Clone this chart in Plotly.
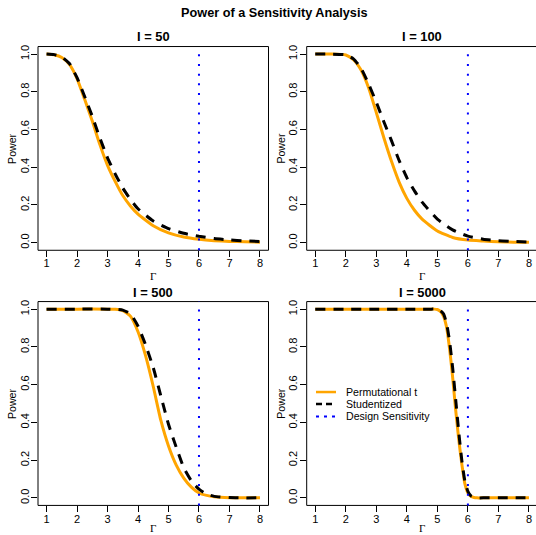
import plotly.graph_objects as go

# ---------------- data ----------------
PANEL_TITLES = ["I = 50", "I = 100", "I = 500", "I = 5000"]
X_TICKS = [1, 2, 3, 4, 5, 6, 7, 8]
Y_TICKS = [0.0, 0.2, 0.4, 0.6, 0.8, 1.0]
DESIGN_SENSITIVITY = 6
SERIES_NAMES = ["Permutational t", "Studentized", "Design Sensitivity"]

gamma_50 = [1, 1.25, 1.5, 1.75, 2, 2.25, 2.5, 2.75, 3, 3.25, 3.5, 3.75, 4, 4.5, 5, 5.5, 6, 6.5, 7, 7.5, 8]
perm_50 = [1.0, 0.996, 0.982, 0.945, 0.87, 0.76, 0.645, 0.52, 0.41, 0.325, 0.25, 0.195, 0.152, 0.09, 0.052, 0.03, 0.018, 0.011, 0.007, 0.005, 0.003]
stud_50 = [1.0, 0.997, 0.985, 0.95, 0.875, 0.775, 0.67, 0.555, 0.45, 0.365, 0.29, 0.23, 0.18, 0.115, 0.075, 0.05, 0.034, 0.022, 0.015, 0.01, 0.007]

gamma_100 = [1, 1.5, 2, 2.25, 2.5, 2.75, 3, 3.25, 3.5, 3.75, 4, 4.25, 4.5, 5, 5.5, 6, 6.5, 7, 7.5, 8]
perm_100 = [1.0, 1.0, 0.995, 0.97, 0.915, 0.82, 0.69, 0.555, 0.43, 0.32, 0.235, 0.172, 0.125, 0.062, 0.028, 0.014, 0.009, 0.005, 0.003, 0.002]
stud_100 = [1.0, 1.0, 0.996, 0.975, 0.925, 0.84, 0.745, 0.64, 0.54, 0.435, 0.345, 0.275, 0.215, 0.125, 0.068, 0.035, 0.019, 0.011, 0.007, 0.004]

gamma_500 = [1, 2, 3, 3.25, 3.5, 3.75, 4, 4.25, 4.5, 4.75, 5, 5.25, 5.5, 5.75, 6, 6.25, 6.5, 7, 7.5, 8]
perm_500 = [1.0, 1.0, 1.0, 0.999, 0.992, 0.963, 0.88, 0.752, 0.59, 0.41, 0.275, 0.175, 0.105, 0.057, 0.026, 0.013, 0.006, 0.001, 0.0, 0.0]
stud_500 = [1.0, 1.0, 1.0, 0.999, 0.995, 0.975, 0.91, 0.81, 0.69, 0.54, 0.39, 0.27, 0.16, 0.09, 0.046, 0.02, 0.008, 0.002, 0.0, 0.0]

gamma_5000 = [1, 2, 3, 4, 4.5, 4.8, 4.9, 5, 5.1, 5.2, 5.3, 5.4, 5.5, 5.6, 5.7, 5.8, 5.9, 6, 6.1, 6.2, 6.3, 6.5, 7, 7.5, 8]
perm_5000 = [1.0, 1.0, 1.0, 1.0, 1.0, 1.0, 1.0, 0.998, 0.988, 0.963, 0.905, 0.79, 0.64, 0.465, 0.31, 0.18, 0.075, 0.026, 0.008, 0.002, 0.0, 0.0, 0.0, 0.0, 0.0]
stud_5000 = [1.0, 1.0, 1.0, 1.0, 1.0, 1.0, 1.0, 0.999, 0.992, 0.975, 0.925, 0.83, 0.69, 0.52, 0.35, 0.2, 0.09, 0.035, 0.01, 0.003, 0.0, 0.0, 0.0, 0.0, 0.0]

PANELS = [
    (gamma_50, perm_50, stud_50),
    (gamma_100, perm_100, stud_100),
    (gamma_500, perm_500, stud_500),
    (gamma_5000, perm_5000, stud_5000),
]

# ---------------- layout geometry (pixels) ----------------
W, H = 536, 535
ORANGE = "#FFA500"
BLUE = "#0000FF"
SANS = "Liberation Sans, Arial, sans-serif"
SERIF = "Liberation Serif, DejaVu Serif, serif"

def fx(px):
    return px / W

def fy(py):
    return 1 - py / H

col_px = [(38.0, 268.5), (306.7, 536.0)]
row_px = [(44.7, 249.2), (300.7, 505.3)]
x_ranges = [[0.72, 8.28], [0.72, 0.72 + (536.0 - 306.7) / 30.53]]

fig = go.Figure()
shapes = []
annotations = []

for i, (g, perm, stud) in enumerate(PANELS):
    r, c = divmod(i, 2)
    n = "" if i == 0 else str(i + 1)
    xa, ya = "x" + n, "y" + n
    fig.add_trace(go.Scatter(x=g, y=perm, xaxis=xa, yaxis=ya, mode="lines",
                             name=SERIES_NAMES[0], showlegend=False,
                             line=dict(color=ORANGE, width=3, shape="spline", smoothing=0.5)))
    fig.add_trace(go.Scatter(x=g, y=stud, xaxis=xa, yaxis=ya, mode="lines",
                             name=SERIES_NAMES[1], showlegend=False,
                             line=dict(color="black", width=3, dash="10px,8px", shape="spline", smoothing=0.5)))
    axis_common = dict(showgrid=False, zeroline=False, showline=False, ticks="outside",
                       ticklen=6, tickwidth=1, tickcolor="black",
                       tickfont=dict(family=SANS, size=11, color="black"))
    fig.layout["xaxis" + n] = dict(domain=[fx(col_px[c][0]), fx(col_px[c][1])],
                                   range=x_ranges[c], anchor=ya,
                                   tickvals=X_TICKS, ticklabelstandoff=-3, **axis_common)
    fig.layout["yaxis" + n] = dict(domain=[fy(row_px[r][1]), fy(row_px[r][0])],
                                   range=[-0.04, 1.04], anchor=xa,
                                   tickvals=Y_TICKS, tickformat=".1f", tickangle=-90,
                                   ticklabelstandoff=-2, **axis_common)
    # box
    shapes.append(dict(type="rect", xref=xa + " domain", yref=ya + " domain",
                       x0=0, x1=1 if c == 0 else 1.05, y0=0, y1=1,
                       line=dict(color="black", width=1)))
    # design sensitivity line
    shapes.append(dict(type="line", xref=xa, yref=ya + " domain",
                       x0=DESIGN_SENSITIVITY, x1=DESIGN_SENSITIVITY, y0=0, y1=1,
                       line=dict(color=BLUE, width=2, dash="2px,7.7px")))
    cx = (col_px[c][0] + (col_px[c][1] if c == 0 else 537.5)) / 2
    annotations.append(dict(text="<b>%s</b>" % PANEL_TITLES[i], xref="paper", yref="paper",
                            x=fx(cx), y=fy(34.7 + 257 * r), xanchor="center", yanchor="middle",
                            showarrow=False, font=dict(family=SANS, size=12.9, color="black")))
    annotations.append(dict(text="Power", xref="paper", yref="paper", textangle=-90,
                            x=fx(12.5 + 268.7 * c), y=fy((row_px[r][0] + row_px[r][1]) / 2),
                            xanchor="center", yanchor="middle", showarrow=False,
                            font=dict(family=SANS, size=10.6, color="black")))
    annotations.append(dict(text="\u0393", xref="paper", yref="paper",
                            x=fx(cx), y=fy(275 + 253 * r), xanchor="center", yanchor="middle",
                            showarrow=False, font=dict(family=SERIF, size=11, color="black")))

# legend (drawn in bottom-right panel)
leg_rows = [391.5, 403.5, 416]
leg_styles = [dict(color=ORANGE, width=2.5), dict(color="black", width=2.5, dash="6px,4px"),
              dict(color=BLUE, width=2, dash="3px,5px")]
for name, yy, st in zip(SERIES_NAMES, leg_rows, leg_styles):
    shapes.append(dict(type="line", xref="paper", yref="paper", x0=fx(316), x1=fx(336),
                       y0=fy(yy), y1=fy(yy), line=st))
    annotations.append(dict(text=name, xref="paper", yref="paper", x=fx(344), y=fy(yy),
                            xanchor="left", yanchor="middle", showarrow=False,
                            font=dict(family=SANS, size=10.6, color="black")))

fig.update_layout(
    width=W, height=H,
    margin=dict(l=0, r=0, t=0, b=0),
    paper_bgcolor="white", plot_bgcolor="white",
    showlegend=False,
    title=dict(text="<b>Power of a Sensitivity Analysis</b>", x=fx(274.3), xanchor="center",
               y=fy(13), yanchor="middle", font=dict(family=SANS, size=12.7, color="black")),
    shapes=shapes, annotations=annotations,
)

fig.write_html("out.html", config={"displayModeBar": False},
               post_script="document.body.style.margin='0';document.body.style.overflow='hidden';")
